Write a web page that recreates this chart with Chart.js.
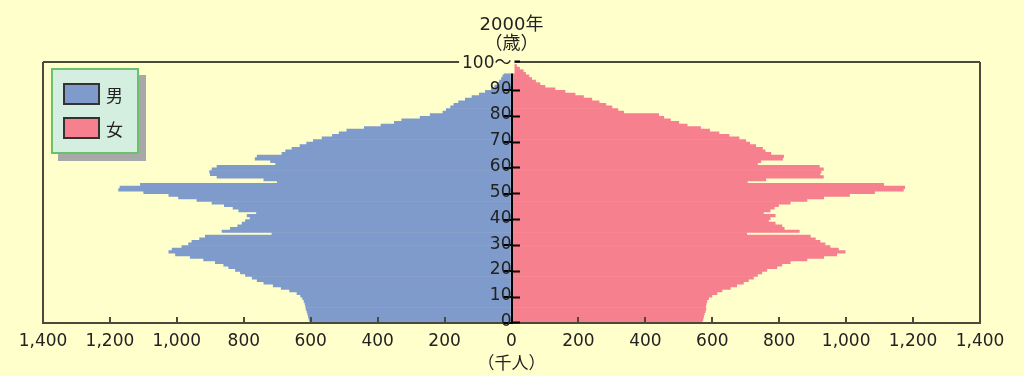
<!DOCTYPE html>
<html>
<head>
<meta charset="utf-8">
<script src="https://cdn.jsdelivr.net/npm/chart.js@4.4.0/dist/chart.umd.min.js"></script>
<style>
  body { margin: 0; background: #ffffcc; }
  #wrap { position: relative; width: 1024px; height: 376px; }
  #legend {
    position: absolute; left: 51px; top: 68px; width: 84px; height: 82px;
    background: #d4eee0; border: 2px solid #6cbf6c; box-shadow: 7px 7px 0 #a8a8a8;
    font-family: 'Noto Sans CJK JP', sans-serif; font-size: 17px; color: #222;
  }
  #legend .row { position: absolute; left: 10px; height: 22px; display: flex; align-items: center; }
  #legend .swatch { width: 33px; height: 18px; border: 2px solid #333; margin-right: 6px; }
</style>
</head>
<body>
<div id="wrap">
  <canvas id="chart" width="1024" height="376"></canvas>
  <div id="legend"></div>
</div>
<script>
// age categories 0..100 (100 = 100歳以上)
const ages = Array.from({ length: 101 }, (_, i) => String(i));

// 2000年 人口 (千人), 年齢 0..100
const male = [
  603, 605, 607, 609, 611, 614, 615, 617, 620, 624,
  630, 641, 663, 688, 712, 740, 760, 775, 795, 810,
  825, 845, 860, 885, 920, 960, 1004, 1024, 1014, 985,
  965, 955, 932, 915, 716, 865, 840, 818, 805, 795,
  781, 790, 762, 815, 832, 858, 895, 940, 995, 1024,
  1099, 1174, 1170, 1109, 700, 740, 880, 900, 902, 895,
  880, 705, 720, 766, 760, 686, 675, 656, 632, 612,
  592, 566, 535, 515, 492, 440, 390, 350, 328, 273,
  243, 205, 195, 182, 172, 158, 138, 118, 96, 78,
  60, 50, 43, 36, 30, 26, 22, 18, 14, 10,
  6
];
const female = [
  570, 572, 574, 576, 579, 581, 580, 582, 584, 589,
  599, 614, 629, 654, 673, 693, 708, 723, 735, 748,
  763, 793, 808, 833, 883, 933, 972, 997, 977, 952,
  937, 922, 908, 893, 703, 860, 815, 808, 788, 768,
  773, 788, 753, 773, 785, 798, 833, 883, 933, 1010,
  1085, 1171, 1175, 1112, 705, 760, 932, 922, 925, 932,
  920, 735, 745, 810, 813, 775, 758, 750, 730, 712,
  700, 680, 650, 620, 592, 565, 525, 500, 475, 455,
  440, 335, 318, 300, 282, 262, 240, 215, 190, 160,
  130, 100, 85, 72, 60, 52, 42, 35, 24, 15,
  8
];

const seriesNames = ['男', '女'];
const titleLines = ['2000年', '（歳）'];
const unitLabel = '（千人）';

const bg = '#ffffcc';
const frameColor = '#4a4a3c';
const ink = '#222222';
const none = 'rgba(0,0,0,0)';

Chart.defaults.font.family = "'DejaVu Sans', 'Noto Sans CJK JP', sans-serif";
Chart.defaults.font.size = 17;

// y tick marks only every 10 years, plus the top line
function ageTick(c) {
    if (c.type === 'scale') return '#000';
    return (c.index % 10 === 0 && c.index < 100) ? '#000' : none;
}

const ctx = document.getElementById('chart').getContext('2d');
const chart = new Chart(ctx, {
    type: 'bar',
    data: {
        labels: ages,
        datasets: [{
            label: seriesNames[0],
            data: male.map(v => -v),
            backgroundColor: '#7f9bcb',
            barPercentage: 1,
            categoryPercentage: 1,
            yAxisID: 'y'
        }, {
            label: seriesNames[1],
            data: female,
            backgroundColor: '#f7808f',
            barPercentage: 1,
            categoryPercentage: 1,
            yAxisID: 'y'
        }]
    },
    options: {
        indexAxis: 'y',
        responsive: false,
        animation: false,
        layout: { padding: { left: 43, right: 44, top: 0, bottom: 0 } },
        plugins: {
            legend: { display: false },
            tooltip: { enabled: false },
            title: {
                display: true,
                text: titleLines,
                color: ink,
                font: { size: 18, weight: 'normal', lineHeight: 1.06 },
                padding: { top: 15.4, bottom: 8.4 }
            }
        },
        scales: {
            x: {
                type: 'linear',
                min: -1400,
                max: 1400,
                stacked: true,
                position: 'bottom',
                afterFit: function (s) { s.height = 53; },
                border: { color: frameColor, width: 2, z: 1 },
                grid: {
                    z: 1,
                    color: c => (c.tick && Math.abs(c.tick.value) === 1400) ? frameColor : none,
                    lineWidth: 2,
                    tickColor: frameColor,
                    tickWidth: 2,
                    tickLength: -6
                },
                ticks: {
                    z: 1,
                    stepSize: 200,
                    color: ink,
                    padding: 14,
                    maxRotation: 0,
                    autoSkip: false,
                    callback: v => Math.abs(v).toLocaleString('en-US')
                },
                title: {
                    display: true,
                    text: unitLabel,
                    color: ink,
                    font: { size: 17 },
                    padding: { top: 0, bottom: 1 }
                }
            },
            y: {
                type: 'category',
                reverse: true,
                stacked: true,
                offset: true,
                position: { x: 0 },
                border: { color: '#000', width: 2, z: 2 },
                grid: {
                    z: 1,
                    offset: true,
                    lineWidth: 2,
                    color: c => c.type === 'scale' ? frameColor : none,
                    tickColor: ageTick,
                    tickWidth: 2,
                    tickLength: 8
                },
                ticks: {
                    z: 2,
                    autoSkip: false,
                    padding: 3,
                    color: ink,
                    callback: function (v, i) {
                        if (i % 10) return '';
                        return i === 100 ? '100〜' : this.getLabelForValue(v);
                    },
                    showLabelBackdrop: c => c.index === 100,
                    backdropColor: bg,
                    backdropPadding: { left: 3, right: 3, top: 0, bottom: 0 }
                }
            },
            // right half of the age tick marks
            y2: {
                type: 'category',
                reverse: true,
                offset: true,
                position: { x: 0 },
                border: { display: false },
                grid: {
                    z: 1,
                    offset: true,
                    drawOnChartArea: false,
                    color: none,
                    tickColor: ageTick,
                    tickWidth: 2,
                    tickLength: -8
                },
                ticks: { display: false, autoSkip: false }
            }
        }
    }
});

// html legend from the chart's own legend items
const legendBox = document.getElementById('legend');
chart.options.plugins.legend.labels.generateLabels(chart).forEach(function (item, i) {
    const row = document.createElement('div');
    row.className = 'row';
    row.style.top = (13 + i * 34) + 'px';
    const sw = document.createElement('div');
    sw.className = 'swatch';
    sw.style.background = item.fillStyle;
    const tx = document.createElement('span');
    tx.textContent = item.text;
    row.appendChild(sw);
    row.appendChild(tx);
    legendBox.appendChild(row);
});
</script>
</body>
</html>
